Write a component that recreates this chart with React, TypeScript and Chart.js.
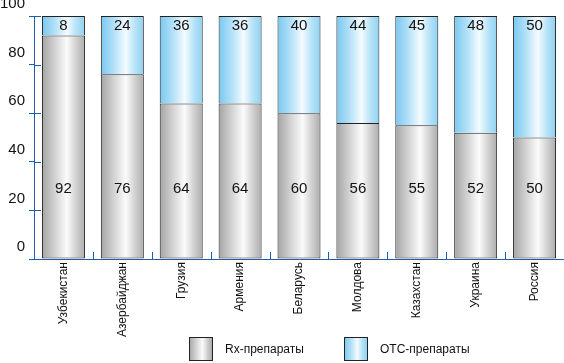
import React, { useEffect, useRef } from 'react';
import { Chart, registerables } from 'chart.js';

Chart.register(...registerables);

const categories = ['Узбекистан', 'Азербайджан', 'Грузия', 'Армения', 'Беларусь', 'Молдова', 'Казахстан', 'Украина', 'Россия'];
const rxValues = [92, 76, 64, 64, 60, 56, 55, 52, 50];
const otcValues = [8, 24, 36, 36, 40, 44, 45, 48, 50];
const yTicks = [0, 20, 40, 60, 80, 100];
const seriesNames = ['Rx-препараты', 'OTC-препараты'];

const AXIS_BLUE = '#1f5fa8';
const BAR_PCT = 0.73;
const FONT = 'Arial, "Liberation Sans", sans-serif';

const greyStops: [number, string][] = [
  [0, '#a4a4a4'],
  [0.3, '#d2d2d2'],
  [0.58, '#fbfbfb'],
  [0.8, '#d0d0d0'],
  [1, '#acacac'],
];
const blueStops: [number, string][] = [
  [0, '#78c8f0'],
  [0.3, '#b2e0f7'],
  [0.58, '#f4fbff'],
  [0.8, '#b6e2f7'],
  [1, '#8ed2f2'],
];

function barGradient(ctx: any, stops: [number, string][]) {
  const chart = ctx.chart;
  const xScale = chart.scales && chart.scales.x;
  if (!xScale || ctx.dataIndex == null || !xScale.width) return stops[2][1];
  const cx = xScale.getPixelForValue(ctx.dataIndex);
  const w = (xScale.width / categories.length) * BAR_PCT;
  const g = chart.ctx.createLinearGradient(cx - w / 2, 0, cx + w / 2, 0);
  stops.forEach(([o, c]) => g.addColorStop(o, c));
  return g;
}

const axisStubsPlugin = {
  id: 'axisStubs',
  afterDraw(chart: any) {
    const c = chart.ctx;
    const { left, bottom } = chart.chartArea;
    const yScale = chart.scales.y;
    const xScale = chart.scales.x;
    c.save();
    c.strokeStyle = AXIS_BLUE;
    c.lineWidth = 1;
    c.beginPath();
    yTicks.forEach((v) => {
      const y = Math.round(yScale.getPixelForValue(v)) + 0.5;
      c.moveTo(left, y);
      c.lineTo(left + 7, y);
    });
    const step = xScale.width / categories.length;
    for (let i = 0; i <= categories.length; i++) {
      const x = Math.round(left + i * step) + 0.5;
      c.moveTo(x, bottom);
      c.lineTo(x, bottom - 7);
    }
    c.stroke();
    c.restore();
  },
};

const valueLabelsPlugin = {
  id: 'valueLabels',
  afterDatasetsDraw(chart: any) {
    const c = chart.ctx;
    const xScale = chart.scales.x;
    const yScale = chart.scales.y;
    c.save();
    c.fillStyle = '#111';
    c.font = `15px ${FONT}`;
    c.textAlign = 'center';
    c.textBaseline = 'middle';
    categories.forEach((_, i) => {
      const x = xScale.getPixelForValue(i);
      c.fillText(String(rxValues[i]), x, yScale.getPixelForValue(29));
      c.fillText(String(otcValues[i]), x, yScale.getPixelForValue(100) + 10);
    });
    c.restore();
  },
};

const legendPlugin = {
  id: 'customLegend',
  afterDraw(chart: any) {
    const c = chart.ctx;
    const items = [
      { label: seriesNames[0], stops: greyStops, x: 189 },
      { label: seriesNames[1], stops: blueStops, x: 344 },
    ];
    const top = 337;
    const size = 23;
    c.save();
    items.forEach((it) => {
      const g = c.createLinearGradient(it.x, 0, it.x + size, 0);
      it.stops.forEach(([o, col]) => g.addColorStop(o, col));
      c.fillStyle = g;
      c.fillRect(it.x, top, size, size);
      c.strokeStyle = '#222';
      c.lineWidth = 1;
      c.strokeRect(it.x + 0.5, top + 0.5, size, size);
      c.fillStyle = '#111';
      c.font = `12px ${FONT}`;
      c.textAlign = 'left';
      c.textBaseline = 'middle';
      c.fillText(it.label, it.x + 36, top + size / 2 + 1);
    });
    c.restore();
  },
};

export default function App() {
  const ref = useRef<HTMLCanvasElement | null>(null);

  useEffect(() => {
    document.body.style.margin = '0';
    if (!ref.current) return;
    const chart = new Chart(ref.current, {
      type: 'bar',
      data: {
        labels: categories,
        datasets: [
          {
            label: seriesNames[0],
            data: rxValues,
            backgroundColor: (ctx: any) => barGradient(ctx, greyStops),
            borderColor: '#222',
            borderWidth: 1,
            borderSkipped: false,
            barPercentage: BAR_PCT,
            categoryPercentage: 1,
          },
          {
            label: seriesNames[1],
            data: otcValues,
            backgroundColor: (ctx: any) => barGradient(ctx, blueStops),
            borderColor: '#222',
            borderWidth: 1,
            borderSkipped: 'bottom',
            barPercentage: BAR_PCT,
            categoryPercentage: 1,
          },
        ],
      },
      options: {
        responsive: false,
        animation: false,
        layout: { padding: { top: 16, left: 0, right: 0, bottom: 0 } },
        plugins: {
          legend: { display: false },
          tooltip: { enabled: false },
        },
        scales: {
          x: {
            stacked: true,
            grid: { display: false, drawTicks: false },
            border: { display: true, color: AXIS_BLUE, width: 1 },
            ticks: {
              maxRotation: 90,
              minRotation: 90,
              autoSkip: false,
              padding: 3,
              color: '#111',
              font: { family: FONT, size: 12 },
            },
            afterFit: (s: any) => {
              s.height = 104;
            },
          },
          y: {
            stacked: true,
            min: 0,
            max: 100,
            afterBuildTicks: (s: any) => {
              s.ticks = yTicks.map((v) => ({ value: v }));
            },
            grid: { drawOnChartArea: false, drawTicks: true, tickLength: 5, color: AXIS_BLUE },
            border: { display: true, color: AXIS_BLUE, width: 1 },
            ticks: {
              labelOffset: -12,
              padding: 4,
              color: '#111',
              font: { family: FONT, size: 15 },
            },
            afterFit: (s: any) => {
              s.width = 34;
            },
          },
        },
      },
      plugins: [axisStubsPlugin, valueLabelsPlugin, legendPlugin],
    });
    return () => chart.destroy();
  }, []);

  return (
    <div style={{ position: 'fixed', left: 0, top: 0, width: 564, height: 363, background: '#fff' }}>
      <canvas ref={ref} width={564} height={363} style={{ display: 'block' }} />
    </div>
  );
}
